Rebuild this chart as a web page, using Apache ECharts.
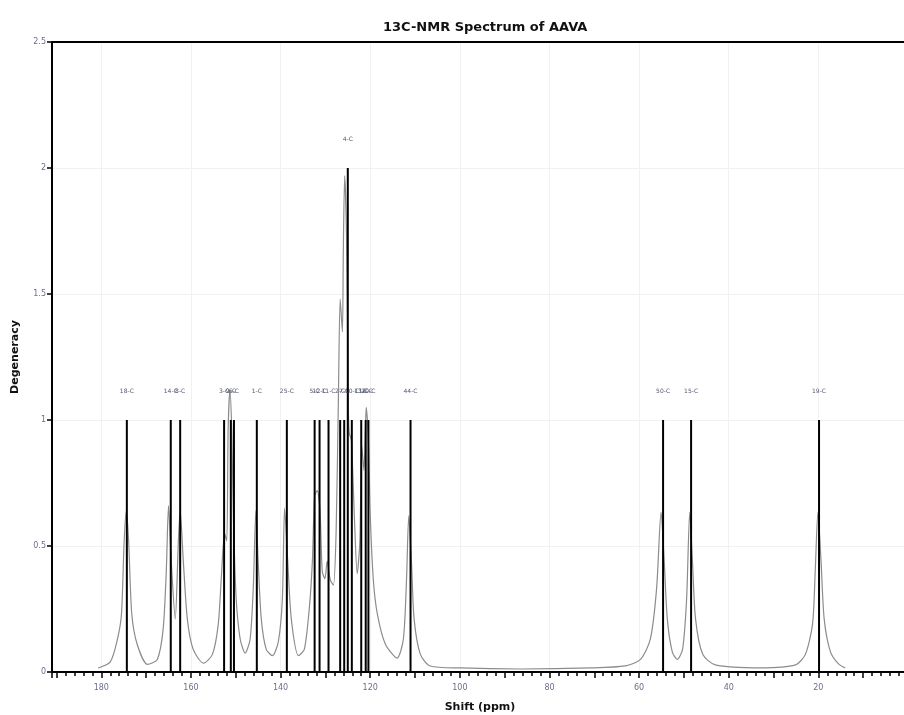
<!DOCTYPE html>
<html>
<head>
<meta charset="utf-8">
<title>13C-NMR Spectrum of AAVA</title>
<script src="https://cdn.jsdelivr.net/npm/echarts@6/dist/echarts.min.js"></script>
<style>
  html, body { margin: 0; padding: 0; background: #fff; }
  #chart { width: 904px; height: 715px; }
</style>
</head>
<body>
<div id="chart"></div>
<script>
// peak positions (ppm), degeneracy and carbon labels
const shifts = [174.3, 164.5, 162.4, 152.6, 151.1, 150.4, 145.3, 138.6, 132.4, 131.3, 129.3,
  126.7, 125.8, 125.0, 124.1, 122.0, 121.0, 120.4, 111.0, 54.65, 48.4, 19.85]
const degeneracy = [1, 1, 1, 1, 1, 1, 1, 1, 1, 1, 1, 1, 1, 2, 1, 1, 1, 1, 1, 1, 1, 1]
const peakLabels = ['18-C', '14-C', '8-C', '3-C', '9-C', '6-C', '1-C', '25-C', '5-C', '12-C', '11-C',
  '2-C', '7-C', '4-C', '10-C', '13-C', '16-C', '20-C', '44-C', '50-C', '15-C', '19-C']

// simulated envelope: [ppm, intensity]
const envelope = [
  [180.7, 0.016], [178.0, 0.04], [176.4, 0.13], [175.5, 0.23], [174.9, 0.52], [174.4, 0.64],
  [173.9, 0.52], [173.2, 0.23], [172.0, 0.11], [169.7, 0.03], [167.5, 0.05], [166.2, 0.17],
  [165.5, 0.40], [165.0, 0.66], [164.4, 0.44], [163.5, 0.21], [162.8, 0.52], [162.4, 0.64],
  [161.7, 0.44], [160.8, 0.21], [159.5, 0.09], [157.2, 0.035], [155.2, 0.07], [153.9, 0.19],
  [153.2, 0.38], [152.5, 0.55], [152.0, 0.52], [151.7, 0.96], [151.3, 1.12], [150.9, 0.96],
  [150.5, 0.60], [149.9, 0.29], [149.0, 0.13], [147.9, 0.075], [146.8, 0.13], [146.1, 0.33],
  [145.5, 0.64], [145.0, 0.44], [144.3, 0.21], [143.2, 0.09], [141.8, 0.065], [140.5, 0.12],
  [139.6, 0.29], [139.1, 0.65], [138.4, 0.44], [137.6, 0.21], [136.0, 0.065], [134.7, 0.09],
  [133.6, 0.25], [132.9, 0.44], [132.4, 0.70], [131.8, 0.72], [131.2, 0.64], [130.7, 0.40],
  [130.1, 0.37], [129.6, 0.44], [128.9, 0.365], [128.2, 0.345], [127.6, 0.56], [127.1, 1.08],
  [126.7, 1.48], [126.2, 1.35], [126.0, 1.67], [125.7, 1.97], [125.3, 1.75], [124.9, 1.08],
  [124.7, 0.95], [124.2, 0.92], [123.5, 0.60], [122.9, 0.39], [122.3, 0.52], [121.9, 0.90],
  [121.4, 0.80], [120.9, 1.05], [120.4, 0.92], [120.0, 0.63], [119.3, 0.365], [118.4, 0.23],
  [116.6, 0.11], [114.0, 0.055], [112.6, 0.13], [111.9, 0.365], [111.4, 0.62], [110.8, 0.44],
  [110.2, 0.21], [108.8, 0.07], [106.6, 0.024], [99.9, 0.016], [86.5, 0.012], [70.9, 0.016],
  [63.1, 0.024], [59.7, 0.05], [57.5, 0.13], [56.1, 0.33], [55.1, 0.635], [54.4, 0.44],
  [53.7, 0.21], [52.6, 0.08], [51.5, 0.05], [50.3, 0.09], [49.4, 0.29], [48.7, 0.635],
  [48.1, 0.44], [47.4, 0.21], [45.8, 0.07], [43.0, 0.028], [32.9, 0.016], [25.1, 0.028],
  [22.9, 0.07], [21.3, 0.19], [20.7, 0.40], [20.1, 0.635], [19.4, 0.44], [18.7, 0.21],
  [17.3, 0.08], [15.5, 0.032], [14.0, 0.016]
]

const chart = echarts.init(document.getElementById('chart'))

const tickFont = { fontFamily: 'DejaVu Sans', fontSize: 8, color: '#6a6f8c' }

function renderStick(params, api) {
  const x = api.value(0)
  const h = api.value(1)
  const p0 = api.coord([x, 0])
  const p1 = api.coord([x, h])
  return {
    type: 'group',
    children: [
      {
        type: 'line',
        shape: { x1: p0[0], y1: p0[1], x2: p1[0], y2: p1[1] },
        style: { stroke: '#000', lineWidth: 2 }
      },
      {
        type: 'text',
        x: p1[0],
        y: p1[1] - 29,
        style: {
          text: peakLabels[params.dataIndex],
          fill: '#55596e',
          font: '6px "DejaVu Sans"',
          align: 'center',
          verticalAlign: 'middle'
        }
      }
    ]
  }
}

chart.setOption({
  backgroundColor: '#fff',
  animation: false,
  title: {
    text: '13C-NMR Spectrum of AAVA',
    left: 378,
    top: 16,
    textStyle: { fontFamily: 'DejaVu Sans', fontSize: 13, fontWeight: 'bold', color: '#111' }
  },
  grid: { left: 52, right: -4, top: 42, bottom: 43, outerBoundsMode: 'none', containLabel: false },
  xAxis: [
    {
      type: 'value',
      inverse: true,
      min: 0,
      max: 191,
      interval: 10,
      name: 'Shift (ppm)',
      nameLocation: 'middle',
      nameGap: 30,
      nameTextStyle: { fontFamily: 'DejaVu Sans', fontSize: 11, fontWeight: 'bold', color: '#111' },
      axisLine: { onZero: false, lineStyle: { color: '#000', width: 2 } },
      axisTick: { length: 6, lineStyle: { color: '#000', width: 1.5 } },
      minorTick: { show: true, splitNumber: 5, length: 4, lineStyle: { color: '#000', width: 1.5 } },
      axisLabel: {
        ...tickFont,
        margin: 12,
        formatter: v => (v % 20 === 0 ? String(v) : '')
      },
      splitLine: { show: false }
    },
    {
      type: 'value',
      position: 'top',
      inverse: true,
      min: 0,
      max: 191,
      interval: 20,
      axisLine: { show: true, onZero: false, lineStyle: { color: '#000', width: 2 } },
      axisTick: { show: false },
      axisLabel: { show: false },
      splitLine: { show: true, lineStyle: { color: '#f1f1f1', width: 1 } }
    }
  ],
  yAxis: {
    type: 'value',
    position: 'left',
    min: 0,
    max: 2.5,
    interval: 0.5,
    name: 'Degeneracy',
    nameLocation: 'middle',
    nameGap: 31,
    nameTextStyle: { fontFamily: 'DejaVu Sans', fontSize: 11, fontWeight: 'bold', color: '#111' },
    axisLine: { show: true, onZero: false, lineStyle: { color: '#000', width: 2 } },
    axisTick: { show: true, length: 5, lineStyle: { color: '#000', width: 1.5 } },
    axisLabel: { ...tickFont, margin: 6 },
    splitLine: { show: true, lineStyle: { color: '#f1f1f1', width: 1 } }
  },
  series: [
    {
      name: 'envelope',
      type: 'line',
      xAxisIndex: 0,
      data: envelope,
      showSymbol: false,
      smooth: 0.25,
      lineStyle: { color: '#8c8c8c', width: 1.2 },
      z: 2
    },
    {
      name: 'peaks',
      type: 'custom',
      xAxisIndex: 0,
      renderItem: renderStick,
      encode: { x: 0, y: 1 },
      data: shifts.map((s, i) => [s, degeneracy[i]]),
      z: 3
    }
  ]
})
</script>
</body>
</html>
